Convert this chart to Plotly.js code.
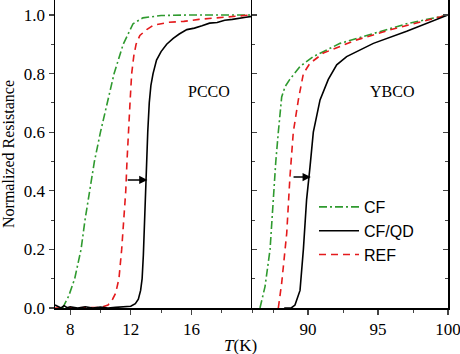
<!DOCTYPE html>
<html><head><meta charset="utf-8">
<script src="https://cdn.plot.ly/plotly-3.0.1.min.js"></script>
<style>html,body{margin:0;padding:0;background:#fff}#c{width:460px;height:354px}</style>
</head><body><div id="c"></div>
<script>
// PCCO panel (T in K)
const pccoCF_T = [7.5,7.9,8.3,8.72,8.98,9.27,9.6,10.0,10.45,10.9,11.5,12.15,12.8,14.0,16.0,18.0,20.0];
const pccoCF_R = [0,0.04,0.1,0.2,0.3,0.4,0.5,0.6,0.7,0.8,0.9,0.97,0.99,0.998,1.0,1.0,1.0];
const pccoQD_T = [7.0,7.2,7.4,7.6,7.8,8.0,8.5,9.0,9.5,10.0,10.5,11.0,11.5,12.0,12.3,12.5,12.65,12.75,12.83,12.88,12.98,13.05,13.12,13.22,13.33,13.47,13.7,14.0,14.37,14.8,15.2,15.7,16.2,16.7,17.2,17.7,18.2,18.7,19.2,19.6,20.0];
const pccoQD_R = [0.01,0.004,0.0,0.008,0.001,0.004,0.0,0.004,0.0,0.003,0.0,0.002,0.004,0.006,0.015,0.03,0.06,0.1,0.18,0.26,0.4,0.5,0.6,0.7,0.76,0.8,0.846,0.875,0.9,0.92,0.935,0.95,0.955,0.963,0.972,0.974,0.982,0.985,0.99,0.992,0.995];
const pccoREF_T = [7.0,9.0,10.0,10.5,10.8,11.0,11.22,11.4,11.55,11.67,11.75,11.83,11.95,12.06,12.2,12.35,12.6,13.05,13.5,14.5,15.5,16.5,17.5,18.5,20.0];
const pccoREF_R = [0,0,0.002,0.01,0.03,0.05,0.1,0.2,0.3,0.4,0.5,0.6,0.7,0.8,0.86,0.9,0.93,0.95,0.965,0.975,0.978,0.985,0.99,0.995,1.0];
// YBCO panel (T in K)
const ybcoCF_T = [86.57,86.93,87.29,87.5,87.7,87.88,88.12,88.36,88.7,89.43,90.38,92.29,94.67,97.05,100];
const ybcoCF_R = [0,0.073,0.2,0.37,0.5,0.6,0.72,0.755,0.78,0.824,0.858,0.903,0.937,0.97,1.0];
const ybcoQD_T = [88.3,88.8,89.07,89.43,89.67,89.9,90.14,90.38,90.86,91.45,92.05,92.76,94.67,97.05,100];
const ybcoQD_R = [0,0,0.01,0.06,0.2,0.37,0.48,0.6,0.71,0.78,0.83,0.858,0.903,0.944,1.0];
const ybcoREF_T = [87.88,88.12,88.48,88.71,88.95,89.31,89.67,90.14,91.1,93.48,95.86,98.2,100];
const ybcoREF_R = [0,0.085,0.255,0.447,0.6,0.71,0.8,0.835,0.87,0.915,0.949,0.977,1.0];
// tick labels
const pccoTicks = [8, 12, 16];
const ybcoTicks = [90, 95, 100];
// arrows [tailT, headT, R]
const pccoArrow = [11.7, 13.1, 0.437];
const ybcoArrow = [88.86, 90.2, 0.447];

const GREEN = '#2f9a2f', RED = '#e41a1c', BLACK = '#000';
const W = 1.6;
const greenLine = {color: GREEN, width: W, dash: '8px,3px,2px,3px'};
const blackLine = {color: BLACK, width: W};
const redLine = {color: RED, width: W, dash: '7px,5px'};

const traces = [
  {x: pccoCF_T, y: pccoCF_R, xaxis:'x', yaxis:'y', mode:'lines', line: greenLine, showlegend:false, name:'CF'},
  {x: pccoREF_T, y: pccoREF_R, xaxis:'x', yaxis:'y', mode:'lines', line: redLine, showlegend:false, name:'REF'},
  {x: pccoQD_T, y: pccoQD_R, xaxis:'x', yaxis:'y', mode:'lines', line: blackLine, showlegend:false, name:'CF/QD'},
  {x: ybcoCF_T, y: ybcoCF_R, xaxis:'x2', yaxis:'y2', mode:'lines', line: greenLine, name:'CF', legendrank:1},
  {x: ybcoREF_T, y: ybcoREF_R, xaxis:'x2', yaxis:'y2', mode:'lines', line: redLine, name:'REF', legendrank:3},
  {x: ybcoQD_T, y: ybcoQD_R, xaxis:'x2', yaxis:'y2', mode:'lines', line: blackLine, name:'CF/QD', legendrank:2}
];

const serif = '"Liberation Serif", "Times New Roman", serif';
const tickFont = {family: serif, size: 17, color: '#000'};
const split = 197/393;

const layout = {
  width: 460, height: 354,
  margin: {l: 55, r: 12, t: 0, b: 46},
  paper_bgcolor: '#fff', plot_bgcolor: '#fff',
  font: {family: serif, color: '#000'},
  showlegend: true,
  legend: {x: (314-55)/393, y: (308-190)/308, xanchor:'left', yanchor:'top',
           bgcolor:'rgba(0,0,0,0)', borderwidth:0, itemwidth: 40, tracegroupgap: 0,
           font: {family:'"Liberation Sans", Arial, sans-serif', size: 16, color:'#000'}},
  xaxis: {domain:[0, split], range:[7,20], tickvals: pccoTicks, ticks:'outside', ticklen:5, tickwidth:1.2,
          showline:true, linecolor:'#000', linewidth:1.5, showgrid:false, zeroline:false,
          tickfont: tickFont, anchor:'y',
          minor: {tick0:8, dtick:2, ticks:'outside', ticklen:3, tickwidth:1, showgrid:false}},
  xaxis2: {domain:[split, 1], range:[86,100], tickvals: ybcoTicks, ticks:'outside', ticklen:5, tickwidth:1.2,
          showline:true, linecolor:'#000', linewidth:1.5, showgrid:false, zeroline:false,
          tickfont: tickFont, anchor:'y2', ticklabeloverflow:'allow',
          minor: {tick0:87.5, dtick:5, ticks:'outside', ticklen:3, tickwidth:1, showgrid:false}},
  yaxis: {range:[0,1.051], tick0:0, dtick:0.2, tickformat:'.1f', ticks:'outside', ticklen:5, tickwidth:1.2,
          showline:true, linecolor:'#000', linewidth:1.5, showgrid:false, zeroline:false,
          tickfont: tickFont, anchor:'x',
          title: {text:'Normalized Resistance', font:{family: serif, size:16, color:'#000'}, standoff: 6},
          minor: {dtick:0.1, ticks:'outside', ticklen:3, tickwidth:1, showgrid:false}},
  yaxis2: {range:[0,1.051], tick0:0, dtick:0.2, ticks:'inside', ticklen:5, tickwidth:1.2, mirror:'ticks',
          showline:true, linecolor:'#000', linewidth:1.5, showgrid:false, zeroline:false,
          showticklabels:false, anchor:'x2',
          minor: {dtick:0.1, ticks:'inside', ticklen:3, tickwidth:1, showgrid:false}},
  annotations: [
    {xref:'x', yref:'y', x:17.16, y:0.74, text:'PCCO', showarrow:false, font:{family:serif, size:16, color:'#000'}},
    {xref:'x2', yref:'y2', x:96, y:0.74, text:'YBCO', showarrow:false, font:{family:serif, size:16, color:'#000'}},
    {xref:'x', yref:'y', axref:'x', ayref:'y', x:pccoArrow[1], y:pccoArrow[2], ax:pccoArrow[0], ay:pccoArrow[2],
     text:'', showarrow:true, arrowhead:2, arrowsize:1.1, arrowwidth:1.5, arrowcolor:'#000'},
    {xref:'x2', yref:'y2', axref:'x2', ayref:'y2', x:ybcoArrow[1], y:ybcoArrow[2], ax:ybcoArrow[0], ay:ybcoArrow[2],
     text:'', showarrow:true, arrowhead:2, arrowsize:1.1, arrowwidth:1.5, arrowcolor:'#000'},
    {xref:'paper', yref:'paper', x:(240-55)/393, y:(308-345)/308, yanchor:'middle', xanchor:'center',
     text:'<i>T</i>(K)', showarrow:false, font:{family:serif, size:17, color:'#000'}}
  ]
};

Plotly.newPlot('c', traces, layout, {displayModeBar:false, staticPlot:true});
</script></body></html>
